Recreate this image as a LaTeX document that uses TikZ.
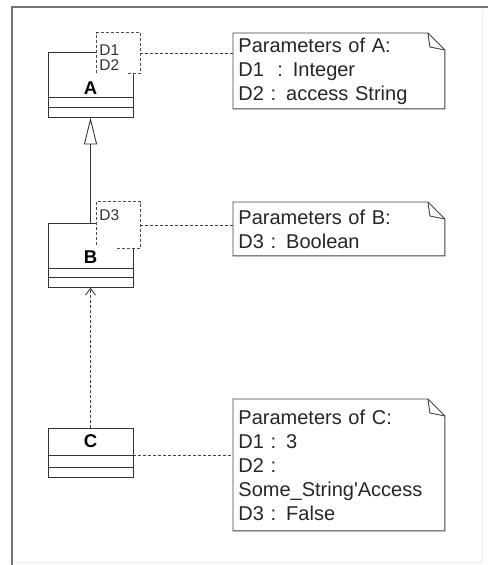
\documentclass[tikz,border=0pt]{standalone}
\usepackage{fontspec}
\setmainfont{Liberation Sans}
\usetikzlibrary{positioning,arrows.meta,calc}

\begin{document}
\begin{tikzpicture}[
    x=1pt, y=-1pt,
    line width=0.9pt,
    cls/.style={draw=black!80, minimum width=85pt, inner sep=0pt},
    tpar/.style={fill=white, minimum width=43pt, inner sep=0pt},
    tdash/.style={draw=black!70, dash pattern=on 3pt off 2pt},
    tlbl/.style={anchor=west, inner sep=0pt, font=\fontsize{15.5}{15.5}\selectfont, text=black!80},
    cname/.style={font=\fontsize{18.5}{18.5}\selectfont\bfseries, inner sep=0pt},
    note/.style={anchor=north west, align=left, text width=201pt, inner xsep=5pt,
                 inner ysep=0pt, font=\fontsize{20}{24}\selectfont, text=black!85},
    link/.style={draw=black!75, dash pattern=on 3pt off 2pt},
    gen/.style={draw=black!80, -{Triangle[open, length=27pt, width=13pt]}},
    dep/.style={link, -{Straight Barb[length=7pt, width=10pt]}},
]
\useasboundingbox (0,0) rectangle (488,565);
% --- frame ---
\draw[black!55, line width=2pt] (12,565) -- (12,7) -- (488,7);
\draw[black!8] (482,10) -- (482,562) -- (14,562);
% --- the three classes ---
\foreach \n/\y/\h/\s in {A/84.5/65/20, B/255/64/19, C/452.5/49/22}{
  \node[cls, minimum height=\h pt] (\n) at (90.5,\y) {};
  \draw[black!80] ([yshift=\s pt]\n.south west) -- ([yshift=\s pt]\n.south east);
  \draw[black!80] ([yshift=10pt]\n.south west) -- ([yshift=10pt]\n.south east);
}
\node[cname] (nameA) at (90.5,88) {A};
\node[cname] (nameB) at (90.5,257) {B};
\node[cname] (nameC) at (90.5,441) {C};
% --- template parameter boxes ---
\node[tpar, minimum height=40pt] (tA) at (118.5,53) {};
\draw[tdash] (tA.south west) -- (tA.north west) -- (tA.north east) -- (tA.south east) -- ++(-13,0);
\node[tlbl] (dA1) at (99,50) {D1};
\node[tlbl] (dA2) at (99,65.5) {D2};
\node[tpar, minimum height=46pt] (tB) at (118.5,225) {};
\draw[tdash] ([yshift=3pt]tB.south west) -- (tB.north west) -- (tB.north east) -- (tB.south east) -- ++(-25,0);
\node[tlbl] (dB3) at (99,215) {D3};
% --- notes ---
\node[note, minimum height=75pt] (nA) at (233,33)
  {Parameters of A:\\D1\ \ : Integer\\D2 : access String};
\node[note, minimum height=53pt] (nB) at (233,202)
  {Parameters of B:\\D3 : Boolean};
\node[note, minimum height=131pt] (nC) at (233,399)
  {Parameters of C:\\D1 : 3\\D2 :\\Some\_String\textquotesingle Access\\D3 : False};
\foreach \n in {nA,nB,nC}{
  \draw[black!75] (\n.south west) -- (\n.north west) -- ([xshift=-17pt]\n.north east)
    -- ([yshift=-17pt]\n.north east) -- (\n.south east) -- cycle;
  \draw[black!75] ([xshift=-17pt]\n.north east) -- ++(2,14) -- ([yshift=-17pt]\n.north east);
}
% --- connectors ---
\coordinate (cC) at ([yshift=22pt]C.south east);
\draw[link] (tA.east) -- (tA.east -| nA.west);
\draw[link] (tB.east) -- (tB.east -| nB.west);
\draw[link] (cC) -- (cC -| nC.west);
\draw[gen] (B.north) -- (A.south);
\draw[dep] (C.north) -- (B.south);
\end{tikzpicture}
\end{document}
